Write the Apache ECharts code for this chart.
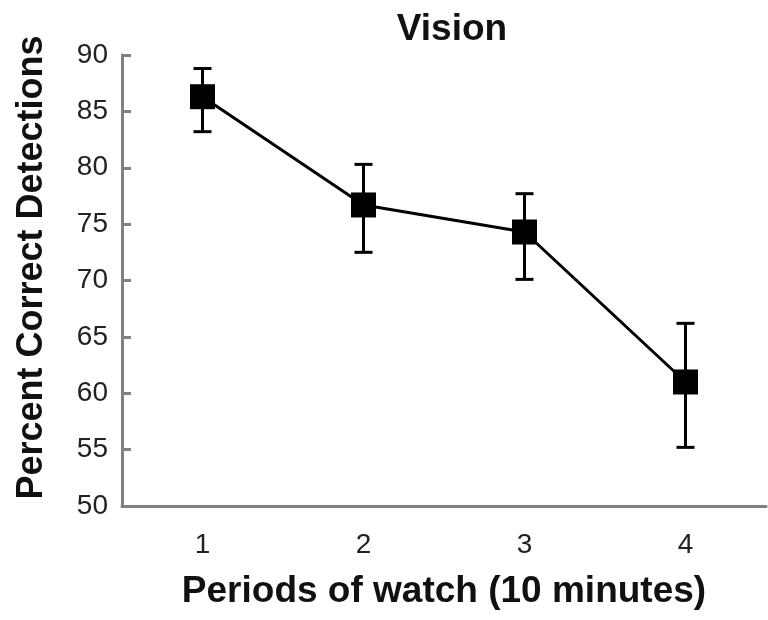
<!DOCTYPE html>
<html><head><meta charset="utf-8">
<script src="https://cdn.jsdelivr.net/npm/echarts@6/dist/echarts.min.js"></script>
<style>html,body{margin:0;padding:0;background:#fff}#c{width:768px;height:620px}</style>
</head><body><div id="c"></div>
<script>
const categories = ['1', '2', '3', '4'];
const meanValues = [86.3, 76.7, 74.3, 61.0];
const upperValues = [88.8, 80.3, 77.7, 66.2];
const lowerValues = [83.2, 72.5, 70.1, 55.2];
const yTicks = [50, 55, 60, 65, 70, 75, 80, 85, 90];

const chart = echarts.init(document.getElementById('c'));
const errData = categories.map((c, i) => [i, lowerValues[i], upperValues[i]]);
const FONT = 'Liberation Sans, Arial, sans-serif';
chart.setOption({
  animation: false,
  title: { text: 'Vision', left: 447, top: 6, textAlign: 'center',
    textStyle: { fontFamily: FONT, fontWeight: 'bold', fontSize: 37, color: '#111' } },
  grid: { left: 122, right: 2, top: 55, bottom: 114 },
  xAxis: {
    type: 'category', data: categories, boundaryGap: true,
    name: 'Periods of watch (10 minutes)', nameLocation: 'middle', nameGap: 67,
    nameTextStyle: { fontFamily: FONT, fontWeight: 'bold', fontSize: 37, color: '#111' },
    axisLine: { lineStyle: { color: '#808080', width: 3 } },
    axisTick: { show: false },
    axisLabel: { fontFamily: FONT, fontSize: 28, color: '#222', margin: 25 }
  },
  yAxis: {
    type: 'value', min: yTicks[0], max: yTicks[yTicks.length - 1], interval: 5,
    name: 'Percent Correct Detections', nameLocation: 'middle', nameGap: 72,
    nameTextStyle: { fontFamily: FONT, fontWeight: 'bold', fontSize: 36, color: '#111', padding: [0, 0, 0, 26] },
    axisLine: { show: true, lineStyle: { color: '#808080', width: 3 } },
    axisTick: { show: true, inside: true, length: 9, lineStyle: { color: '#808080', width: 3 } },
    axisLabel: { fontFamily: FONT, fontSize: 28, color: '#222', margin: 14 },
    splitLine: { show: false }
  },
  series: [
    {
      type: 'custom', data: errData, z: 3,
      renderItem: function (params, api) {
        const x = api.value(0);
        const lo = api.coord([x, api.value(1)]);
        const hi = api.coord([x, api.value(2)]);
        const hw = 9;
        const st = { stroke: '#000', lineWidth: 3 };
        return { type: 'group', children: [
          { type: 'line', shape: { x1: lo[0], y1: lo[1], x2: hi[0], y2: hi[1] }, style: st },
          { type: 'line', shape: { x1: lo[0] - hw, y1: lo[1], x2: lo[0] + hw, y2: lo[1] }, style: st },
          { type: 'line', shape: { x1: hi[0] - hw, y1: hi[1], x2: hi[0] + hw, y2: hi[1] }, style: st }
        ]};
      }
    },
    {
      type: 'line', data: meanValues, z: 4,
      symbol: 'rect', symbolSize: 25,
      lineStyle: { color: '#000', width: 3 },
      itemStyle: { color: '#000' }
    }
  ]
});
</script></body></html>
